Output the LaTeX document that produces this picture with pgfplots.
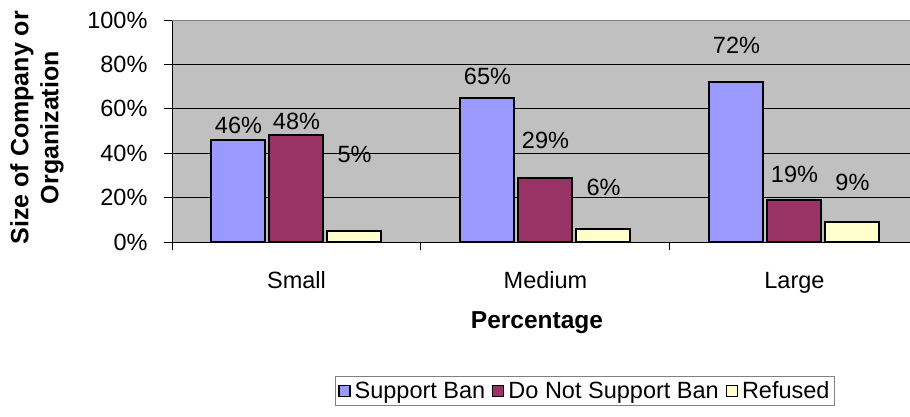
\documentclass[border=0pt]{standalone}
\usepackage{pgfplots}
\usepackage{pgfplotstable}
\usepackage{fontspec}
\setmainfont{Liberation Sans}
\pgfplotsset{compat=1.18}

\definecolor{supportc}{HTML}{9999FF}
\definecolor{opposec}{HTML}{993366}
\definecolor{refusedc}{HTML}{FFFFCC}
\definecolor{plotgray}{HTML}{C0C0C0}
\definecolor{bordergray}{HTML}{808080}

% x = category (0 Small, 1 Medium, 2 Large), y = share in %, off = label lift in pt
\pgfplotstableread{
x y off
0 46 14
1 65 21
2 72 37
}\supportdata
\pgfplotstableread{
x y off
0 48 14
1 29 37
2 19 25
}\opposedata
\pgfplotstableread{
x y off
0 5 76
1 6 41
2 9 40
}\refuseddata

\newcommand{\chartfont}{\fontsize{23.5}{27}\selectfont}

\begin{document}
\begin{tikzpicture}
\useasboundingbox (0pt,0pt) rectangle (910pt,416pt);
\begin{axis}[
  at={(172pt,174pt)}, anchor=south west,
  width=738pt, height=222pt, scale only axis,
  xmin=-0.5, xmax=2.464, ymin=0, ymax=100,
  ybar=4pt, bar width=54pt,
  axis x line*=bottom, axis y line*=left,
  axis line style={black, line width=1pt},
  axis background/.style={fill=plotgray},
  /pgf/number format/assume math mode=true,
  font=\chartfont,
  ytick={0,20,...,100},
  yticklabels={0\%,20\%,40\%,60\%,80\%,100\%},
  ymajorgrids, grid style={black, line width=1pt},
  tick align=outside,
  major tick length=8pt,
  tick style={black, line width=1pt},
  yticklabel style={anchor=east, xshift=-13pt, font=\chartfont},
  xtick={-0.5,0.5,1.5},
  xticklabels={},
  extra x ticks={0,1,2},
  extra x tick labels={Small,Medium,Large},
  extra x tick style={major tick length=0pt,
    xticklabel style={anchor=base, yshift=-46pt, font=\chartfont}},
  xlabel={Percentage},
  every axis x label/.style={at={(axis description cs:0.4946,-0.365)},
    anchor=center, font=\fontsize{24.5}{28}\selectfont\bfseries},
  ylabel={Size of Company or\\Organization},
  every axis y label/.style={at={(axis description cs:-0.183,0.515)},
    rotate=90, anchor=center, align=center,
    font=\fontsize{25}{30}\selectfont\bfseries},
  legend style={at={(axis description cs:0.5596,-0.671)}, anchor=center,
    legend columns=-1, draw=bordergray, line width=1pt,
    fill=white, font=\chartfont, inner xsep=3pt, inner ysep=3pt,
    /tikz/every odd column/.append style={column sep=2pt},
    /tikz/every even column/.append style={column sep=5pt}},
  legend image code/.code={%
    \draw[#1, draw=black, line width=1.2pt] (0pt,-5.5pt) rectangle (11pt,5.5pt);},
  nodes near coords={\pgfmathprintnumber{\pgfplotspointmeta}\%},
  point meta=explicit,
  visualization depends on={\thisrow{off}\as\labellift},
  every node near coord/.append style={anchor=center, yshift=\labellift pt,
    font=\chartfont, black},
]
\addplot[fill=supportc, draw=black, line width=2pt]
  table[x=x, y=y, meta=y] {\supportdata};
\addplot[fill=opposec, draw=black, line width=2pt]
  table[x=x, y=y, meta=y] {\opposedata};
\addplot[fill=refusedc, draw=black, line width=2pt]
  table[x=x, y=y, meta=y] {\refuseddata};
\legend{Support Ban,Do Not Support Ban,Refused}
% upper edge of the plot area
\draw[bordergray, line width=1.4pt] (rel axis cs:0,1) -- (rel axis cs:1,1);
\end{axis}
\end{tikzpicture}
\end{document}
